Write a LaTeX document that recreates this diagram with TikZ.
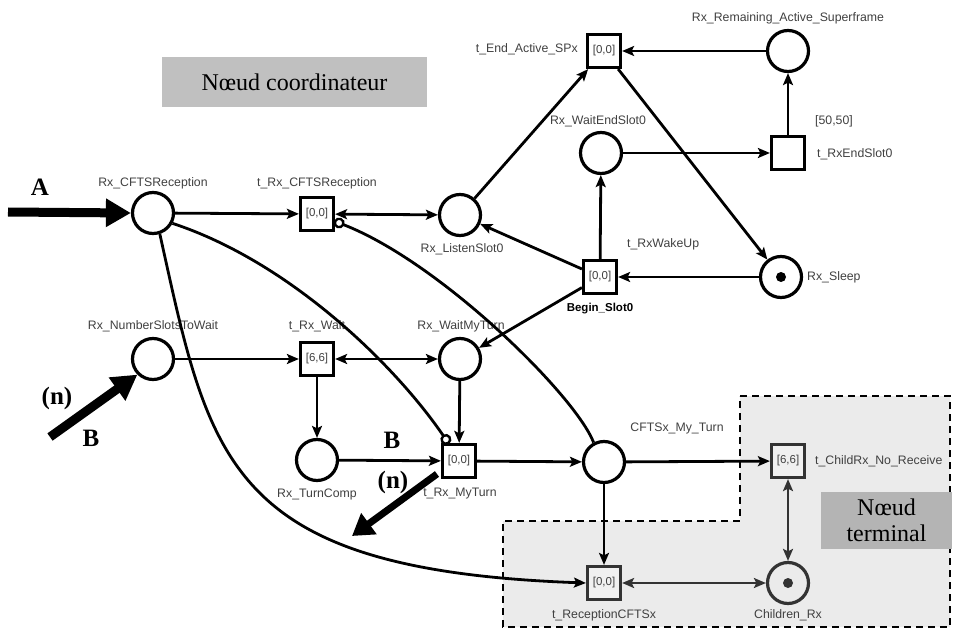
\documentclass[tikz,border=0pt]{standalone}
\usepackage{fontspec}
\setmainfont{Liberation Sans}
\newfontfamily\serifA{Liberation Serif}
\usetikzlibrary{arrows.meta}
\definecolor{boxgray}{HTML}{C0C0C0}
\definecolor{termgray}{HTML}{B4B4B4}
\tikzset{
  place/.style={circle, draw, line width=3.2pt, minimum size=41pt, inner sep=0pt},
  trans/.style={rectangle, draw, line width=3.2pt, minimum size=33pt, inner sep=0pt, fill=white,
    font=\fontsize{11.5}{12}\selectfont, text=black!75},
  lbl/.style={font=\fontsize{12.3}{13}\selectfont, text=black!75, inner sep=0pt},
  arc/.style={line width=2.8pt, -{Stealth[length=12pt,width=10pt,inset=2.5pt]}},
  darc/.style={line width=2.8pt, {Stealth[length=12pt,width=10pt,inset=2.5pt]}-{Stealth[length=12pt,width=10pt,inset=2.5pt]}},
  inhib/.style={line width=2.8pt, -{Circle[length=11pt,fill=white,line width=2.4pt]}},
  bigarrow/.style={line width=9pt, -{Triangle[length=25pt,width=27pt]}},
  biglbl/.style={font=\serifA\bfseries\fontsize{25}{26}\selectfont, inner sep=0pt},
  token/.style={circle, fill, inner sep=0pt, minimum size=10pt},
}
\begin{document}
\begin{tikzpicture}[x=1pt,y=-1pt]
\useasboundingbox (0,0) rectangle (953,631);
% terminal region
\path[fill=black!8, draw, dashed, line width=2.4pt, dash pattern=on 7pt off 5pt]
  (740,396) -- (950,396) -- (950,627) -- (503,627) -- (503,521) -- (740,521) -- cycle;
\node[fill=termgray, minimum width=131pt, minimum height=57pt, inner sep=0pt, align=center,
  font=\serifA\fontsize{24}{26}\selectfont] (term) at (886.5,520.5) {Nœud\\terminal};
\node[fill=boxgray, minimum width=265pt, minimum height=50pt, inner sep=0pt,
  font=\serifA\fontsize{24}{26}\selectfont] (coord) at (294.5,82) {Nœud coordinateur};

% places
\node[place] (pCR) at (153,213) {};
\node[place] (pLS) at (460,215) {};
\node[place] (pRA) at (788,51) {};
\node[place] (pWE) at (601,153) {};
\node[place] (pSL) at (781,277) {};
\node[token] at (pSL) {};
\node[place] (pNS) at (153,359) {};
\node[place] (pWM) at (460,359) {};
\node[place] (pTC) at (317,460) {};
\node[place] (pMY) at (604,462) {};
\node[place, draw=black!80] (pCH) at (788,583) {};
\node[token, fill=black!80] at (pCH) {};

% transitions
\node[trans] (tCR) at (317,214) {[0,0]};
\node[trans] (tEA) at (604,51) {[0,0]};
\node[trans] (tES) at (788,153) {};
\node[trans] (tBS) at (600,277) {[0,0]};
\node[trans] (tRW) at (317,359) {[6,6]};
\node[trans] (tMT) at (459,461) {[0,0]};
\node[trans, draw=black!80, fill=black!6] (tCN) at (788,461) {[6,6]};
\node[trans, draw=black!80, fill=black!6] (tRC) at (604,583) {[0,0]};

% labels
\node[lbl] (l1) at (153,183) {Rx\_CFTSReception};
\node[lbl] (l2) at (317,183) {t\_Rx\_CFTSReception};
\node[lbl] (l3) at (462,249) {Rx\_ListenSlot0};
\node[lbl, anchor=east] (l4) at (578,49) {t\_End\_Active\_SPx};
\node[lbl] (l5) at (788,18) {Rx\_Remaining\_Active\_Superframe};
\node[lbl] (l6) at (598,121) {Rx\_WaitEndSlot0};
\node[lbl] (l7) at (834,121) {[50,50]};
\node[lbl, anchor=west] (l8) at (817,154) {t\_RxEndSlot0};
\node[lbl, anchor=west] (l9) at (627,244) {t\_RxWakeUp};
\node[lbl, font=\bfseries\fontsize{11.5}{13}\selectfont, text=black] (l10) at (600,309) {Begin\_Slot0};
\node[lbl, anchor=west] (l11) at (807,277) {Rx\_Sleep};
\node[lbl] (l12) at (153,326) {Rx\_NumberSlotsToWait};
\node[lbl] (l13) at (317,326) {t\_Rx\_Wait};
\node[lbl] (l14) at (461,326) {Rx\_WaitMyTurn};
\node[lbl] (l15) at (317,494) {Rx\_TurnComp};
\node[lbl] (l16) at (460,494) {t\_Rx\_MyTurn};
\node[lbl] (l17) at (677,428) {CFTSx\_My\_Turn};
\node[lbl, anchor=west] (l18) at (815,461) {t\_ChildRx\_No\_Receive};
\node[lbl] (l19) at (604,615) {t\_ReceptionCFTSx};
\node[lbl] (l20) at (788,615) {Children\_Rx};

% arcs
\draw[arc] (pCR) -- (tCR);
\draw[darc] (tCR) -- (pLS);
\draw[arc] (pLS) -- (tEA);
\draw[arc] (tEA) -- (pSL);
\draw[arc] (pRA) -- (tEA);
\draw[arc] (pWE) -- (tES);
\draw[arc] (tES) -- (pRA);
\draw[arc] (tBS) -- (pWE);
\draw[arc] (tBS) -- (pLS);
\draw[arc] (pSL) -- (tBS);
\draw[arc] (tBS) -- (pWM);
\draw[arc] (pNS) -- (tRW);
\draw[darc] (tRW) -- (pWM);
\draw[arc] (tRW) -- (pTC);
\draw[arc] (pTC) -- (tMT);
\draw[arc] (pWM) -- (tMT);
\draw[arc] (tMT) -- (pMY);
\draw[arc] (pMY) -- (tCN);
\draw[arc] (pMY) -- (tRC);
\draw[darc, draw=black!80] (tRC) -- (pCH);
\draw[darc, draw=black!80] (tCN) -- (pCH);

% inhibitor arcs and curves
\coordinate (inh1) at (334,221);
\coordinate (inh2) at (449,444);
\draw[inhib] (pCR.-28) .. controls (290,262) and (395,365) .. (inh2);
\draw[inhib] (pMY.118) .. controls (575,395) and (440,262) .. (inh1);
\draw[arc] (pCR.-72) .. controls (210,460) and (225,570) .. (tRC.west);

% big arrows
\coordinate (aS) at (8,212);
\draw[bigarrow] (aS) -- (pCR.west);
\node[biglbl] (lA) at (40,187) {A};
\coordinate (bS) at (50,437);
\draw[bigarrow, line width=9pt] (bS) -- (pNS.225);
\node[biglbl] (lN1) at (57,398) {(n)};
\node[biglbl] (lB1) at (91,438) {B};
\coordinate (b2S) at (437,474);
\coordinate (b2E) at (352,536);
\draw[bigarrow, line width=7pt, -{Triangle[length=21pt,width=25pt]}] (b2S) -- (b2E);
\node[biglbl] (lB2) at (392,440) {B};
\node[biglbl] (lN2) at (393,482) {(n)};
\end{tikzpicture}
\end{document}
